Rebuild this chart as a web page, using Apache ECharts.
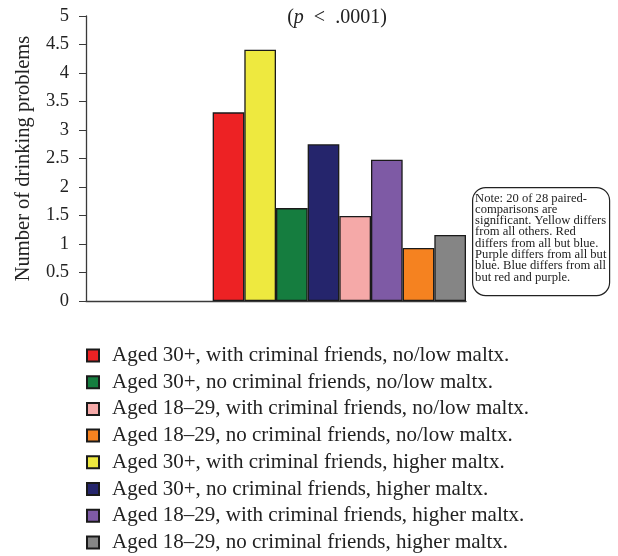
<!DOCTYPE html>
<html>
<head>
<meta charset="utf-8">
<script src="https://cdn.jsdelivr.net/npm/echarts@6/dist/echarts.min.js"></script>
<style>html,body{margin:0;padding:0;background:#fff;}#c{width:618px;height:556px;}</style>
</head>
<body>
<div id="c"></div>
<script>
// Bar order along the x axis (slots 5..12 of 12)
var seriesNames = [
  "Aged 30+, with criminal friends, no/low maltx.",
  "Aged 30+, with criminal friends, higher maltx.",
  "Aged 30+, no criminal friends, no/low maltx.",
  "Aged 30+, no criminal friends, higher maltx.",
  "Aged 18\u201329, with criminal friends, no/low maltx.",
  "Aged 18\u201329, with criminal friends, higher maltx.",
  "Aged 18\u201329, no criminal friends, no/low maltx.",
  "Aged 18\u201329, no criminal friends, higher maltx."
];
var seriesValues = [3.31, 4.41, 1.63, 2.75, 1.49, 2.48, 0.93, 1.16];
var seriesColors = ["#ED2224", "#EEE93F", "#157D3F", "#25256C", "#F5A9A8", "#7E5AA5", "#F58220", "#858585"];
var slots = ["s1","s2","s3","s4","s5","s6","s7","s8","s9","s10","s11","s12"];
var emptySlots = 4;
var legendOrder = [
  "Aged 30+, with criminal friends, no/low maltx.",
  "Aged 30+, no criminal friends, no/low maltx.",
  "Aged 18\u201329, with criminal friends, no/low maltx.",
  "Aged 18\u201329, no criminal friends, no/low maltx.",
  "Aged 30+, with criminal friends, higher maltx.",
  "Aged 30+, no criminal friends, higher maltx.",
  "Aged 18\u201329, with criminal friends, higher maltx.",
  "Aged 18\u201329, no criminal friends, higher maltx."
];
var yTicks = {min: 0, max: 5, interval: 0.5};
var noteLines = [
  "Note: 20 of 28 paired-",
  "comparisons are",
  "significant. Yellow differs",
  "from all others. Red",
  "differs from all but blue.",
  "Purple differs from all but",
  "blue. Blue differs from all",
  "but red and purple."
];

var serif = "'Liberation Serif', 'DejaVu Serif', serif";
var series = seriesNames.map(function (name, i) {
  var data = slots.map(function () { return null; });
  data[emptySlots + i] = seriesValues[i];
  return {
    name: name,
    type: 'bar',
    stack: 'all',
    barWidth: '100%',
    data: data,
    itemStyle: {color: seriesColors[i], borderColor: '#1a1a1a', borderWidth: 1.3}
  };
});

var chart = echarts.init(document.getElementById('c'), null, {renderer: 'canvas'});
chart.setOption({
  animation: false,
  backgroundColor: '#fff',
  title: {
    text: '{a|(}{p|p}{a|  <  .0001)}',
    left: 337, top: 8, textAlign: 'center', padding: 0,
    textStyle: {
      fontWeight: 'normal',
      rich: {
        a: {fontFamily: serif, fontSize: 20, color: '#222', fontWeight: 'normal'},
        p: {fontFamily: serif, fontSize: 20, fontStyle: 'italic', color: '#222', fontWeight: 'normal'}
      }
    }
  },
  grid: {left: 86, right: 152, top: 16, bottom: 255, containLabel: false},
  xAxis: {
    type: 'category',
    data: slots,
    axisLine: {show: true, lineStyle: {color: '#3a3a3a', width: 1.3}},
    axisTick: {show: false},
    axisLabel: {show: false},
    splitLine: {show: false}
  },
  yAxis: {
    type: 'value',
    min: yTicks.min, max: yTicks.max, interval: yTicks.interval,
    name: 'Number of drinking problems',
    nameLocation: 'middle', nameRotate: 90, nameGap: 52,
    nameTextStyle: {fontFamily: serif, fontSize: 20.5, color: '#222'},
    axisLine: {show: true, lineStyle: {color: '#3a3a3a', width: 1.3}},
    axisTick: {show: true, inside: false, length: 7, lineStyle: {color: '#3a3a3a'}},
    axisLabel: {fontFamily: serif, fontSize: 18.5, color: '#222', margin: 17},
    splitLine: {show: false}
  },
  legend: {
    data: legendOrder,
    orient: 'vertical',
    left: 86, top: 345, height: 240,
    padding: 0,
    itemWidth: 12, itemHeight: 12,
    itemGap: 5.7,
    icon: 'rect',
    textStyle: {fontFamily: serif, fontSize: 21, color: '#222', lineHeight: 21, padding: [0, 0, 0, 8]},
    selectedMode: false
  },
  graphic: [{
    type: 'group',
    left: 472, top: 187,
    children: [{
      type: 'rect',
      shape: {x: 0, y: 0, width: 137, height: 108, r: 13},
      style: {fill: '#fff', stroke: '#222', lineWidth: 1.2}
    }, {
      type: 'text',
      x: 2.5, y: 5,
      style: {
        text: noteLines.join('\n'),
        font: "12.6px 'Liberation Serif', 'DejaVu Serif', serif",
        lineHeight: 11.3,
        fill: '#222'
      }
    }]
  }],
  series: series
});
</script>
</body>
</html>
